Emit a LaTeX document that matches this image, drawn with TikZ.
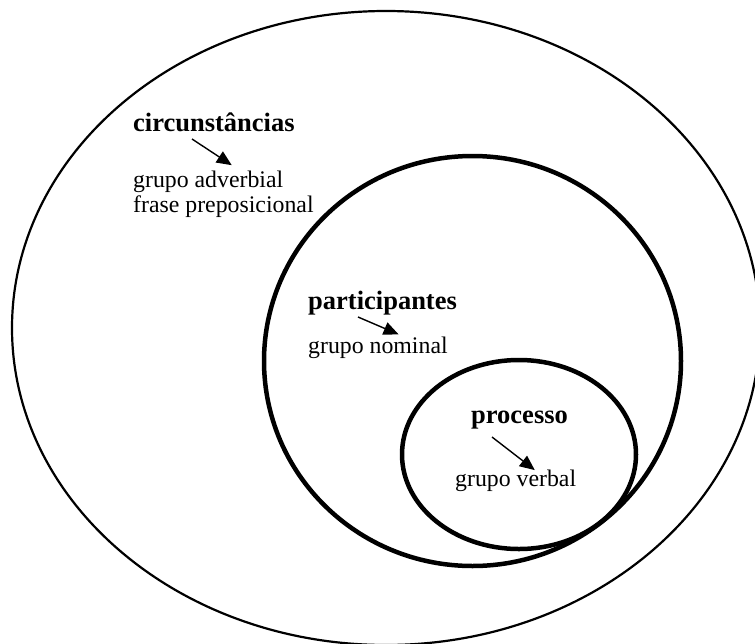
\documentclass[tikz,border=0pt]{standalone}
\usepackage{fontspec}
\setmainfont{Liberation Serif}
\usetikzlibrary{arrows.meta}

\tikzset{
  ring/.style={draw=black, line width=2.2pt},
  heavyring/.style={draw=black, line width=4.5pt},
  headword/.style={anchor=base west, inner sep=0pt, font=\fontsize{26.5}{28}\selectfont\bfseries},
  plainword/.style={anchor=base west, inner sep=0pt, font=\fontsize{23.8}{25}\selectfont},
  pointer/.style={line width=1.4pt, shorten >=1.5pt, -{Triangle[length=15pt,width=13pt]}}
}

\begin{document}
\begin{tikzpicture}[x=1pt, y=-1pt]
  \useasboundingbox (0,0) rectangle (755,643);
  \clip (0,0) rectangle (755,643);

  % nested domains
  \draw[ring]      (386,328)   ellipse [x radius=374,   y radius=317];
  \draw[heavyring] (472.5,361) ellipse [x radius=208.5, y radius=205];
  \draw[heavyring] (519,454.5) ellipse [x radius=117,   y radius=94.5];

  % outer domain
  \node[headword]  (circ) at (133,131) {circunstâncias};
  \node[plainword] (advb) at (133,187) {grupo adverbial};
  \node[plainword] (prep) at (133,212) {frase preposicional};
  \coordinate (circA) at (192,139);
  \coordinate (circB) at (233,166);
  \draw[pointer] (circA) -- (circB);

  % middle domain
  \node[headword]  (part) at (308,309) {participantes};
  \node[plainword] (nomn) at (308,353) {grupo nominal};
  \coordinate (partA) at (358,317);
  \coordinate (partB) at (400,335);
  \draw[pointer] (partA) -- (partB);

  % inner domain
  \node[headword]  (proc) at (471,423) {processo};
  \node[plainword] (verb) at (455,486) {grupo verbal};
  \coordinate (procA) at (492,437);
  \coordinate (procB) at (536,471);
  \draw[pointer] (procA) -- (procB);
\end{tikzpicture}
\end{document}
